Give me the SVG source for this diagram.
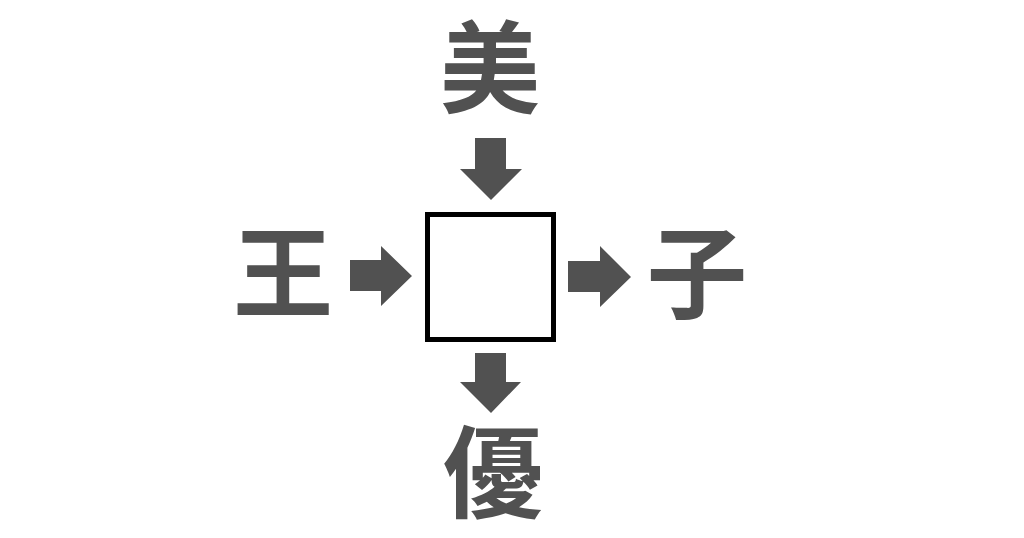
<svg xmlns="http://www.w3.org/2000/svg" width="1024" height="538" viewBox="0 0 1024 538">
<style>
.ch{font-family:"Noto Sans CJK JP","Noto Sans CJK SC",sans-serif;font-weight:700;font-size:100px;fill:#515151;text-anchor:middle}
.ar{fill:#515151}
.box{fill:#fff;stroke:#000;stroke-width:5}
</style>
<rect width="1024" height="538" fill="#fff"/>
<g id="connectors">
<polygon class="ar" points="475,138 506,138 506,169 522,169 491,200 460,169 475,169"/>
<polygon class="ar" points="350,260 381,260 381,246 412,276 381,306 381,291 350,291"/>
<polygon class="ar" points="568,261 600,261 600,246 631,277 600,307 600,292 568,292"/>
<polygon class="ar" points="475,353 506,353 506,382 521,382 491,413 460,382 475,382"/>
</g>
<g id="box"><rect class="box" x="427.5" y="214.5" width="126" height="125"/></g>
<g id="top"><text class="ch" x="490" y="105">美</text></g>
<g id="left"><text class="ch" x="283" y="310">王</text></g>
<g id="right"><text class="ch" x="697" y="310">子</text></g>
<g id="bottom"><text class="ch" x="493" y="510">優</text></g>
</svg>
